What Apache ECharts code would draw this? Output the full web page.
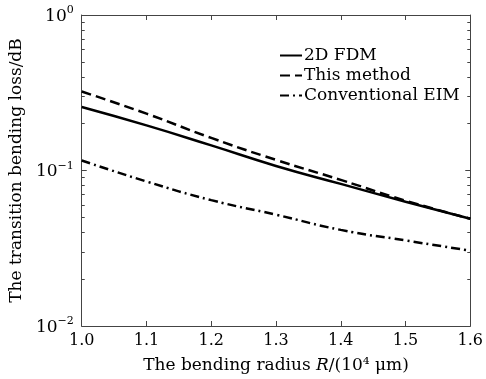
<!DOCTYPE html>
<html>
<head>
<meta charset="utf-8">
<script src="https://cdn.jsdelivr.net/npm/echarts@6/dist/echarts.min.js"></script>
<style>html,body{margin:0;padding:0;background:#fff}#c{width:486px;height:379px}</style>
</head>
<body>
<div id="c"></div>
<script>
const radius = [1.0, 1.1, 1.2, 1.3, 1.4, 1.5, 1.6];
const fdm2d = [0.256, 0.195, 0.145, 0.107, 0.082, 0.063, 0.049];
const thisMethod = [0.322, 0.232, 0.162, 0.117, 0.087, 0.064, 0.049];
const conventionalEIM = [0.116, 0.085, 0.0645, 0.052, 0.0415, 0.0355, 0.0305];
const seriesNames = ['2D FDM', 'This method', 'Conventional EIM'];
const yTickLabels = {'1': ['10', '0'], '0.1': ['10', '−1'], '0.01': ['10', '−2']};
const yMinorTicks = [0.02,0.03,0.04,0.05,0.06,0.07,0.08,0.09,0.2,0.3,0.4,0.5,0.6,0.7,0.8,0.9];

const FONT = 'DejaVu Serif';
const axisCol = '#444';
function pairs(ys) { return radius.map((x, i) => [x, ys[i]]); }

const xBase = {
  type: 'value', min: 1.0, max: 1.6, interval: 0.1,
  axisLine: {show: true, lineStyle: {color: axisCol, width: 1}},
  axisTick: {show: true, inside: true, length: 5, lineStyle: {color: axisCol}},
  splitLine: {show: false}
};
const yBase = {
  type: 'log', logBase: 10, min: 0.01, max: 1, interval: 1,
  axisLine: {show: true, lineStyle: {color: axisCol, width: 1}},
  axisTick: {show: true, inside: true, length: 5, lineStyle: {color: axisCol}},
  splitLine: {show: false}
};

const chart = echarts.init(document.getElementById('c'));
chart.setOption({
  animation: false,
  backgroundColor: '#fff',
  grid: {left: 75, right: 7, top: 15, bottom: 45, containLabel: false},
  legend: {
    orient: 'vertical', left: 274, top: 42,
    itemWidth: 22, itemHeight: 12, itemGap: 3,
    itemStyle: {opacity: 0},
    textStyle: {fontFamily: FONT, fontSize: 17, color: '#000', padding: [0,0,0,-3]},
    data: seriesNames
  },
  xAxis: [
    Object.assign({}, xBase, {
      position: 'bottom',
      axisLabel: {color: '#000', fontFamily: FONT, fontSize: 16, margin: 7,
        formatter: v => v.toFixed(1)},
      name: '{n|The bending radius }{i|R}{n|/(10⁴ μm)}',
      nameLocation: 'middle', nameGap: 31,
      nameTextStyle: {rich: {
        n: {fontFamily: FONT, fontSize: 17, color: '#000'},
        i: {fontFamily: FONT, fontSize: 17, color: '#000', fontStyle: 'italic'}
      }}
    }),
    Object.assign({}, xBase, {position: 'top', axisLabel: {show: false}})
  ],
  yAxis: [
    Object.assign({}, yBase, {
      position: 'left',
      axisLabel: {color: '#000', fontFamily: FONT, fontSize: 16, margin: 8,
        formatter: v => {
          const t = yTickLabels[String(+v.toPrecision(3))];
          return t ? '{b|' + t[0] + '}{s|' + t[1] + '}' : '';
        },
        rich: {
          b: {fontFamily: FONT, fontSize: 17, color: '#000', lineHeight: 20, verticalAlign: 'bottom'},
          s: {fontFamily: FONT, fontSize: 11, color: '#000', lineHeight: 20, verticalAlign: 'top', padding: [0, 0, 8, 0]}
        }
      },
      name: 'The transition bending loss/dB',
      nameLocation: 'middle', nameGap: 47,
      nameTextStyle: {fontFamily: FONT, fontSize: 17, color: '#000'}
    }),
    Object.assign({}, yBase, {position: 'right', axisLabel: {show: false}}),
    Object.assign({}, yBase, {position: 'left', axisLine: {show: false}, axisLabel: {show: false},
      axisTick: {show: true, inside: true, length: 3, customValues: yMinorTicks, lineStyle: {color: axisCol}}}),
    Object.assign({}, yBase, {position: 'right', axisLine: {show: false}, axisLabel: {show: false},
      axisTick: {show: true, inside: true, length: 3, customValues: yMinorTicks, lineStyle: {color: axisCol}}})
  ],
  series: [
    {name: seriesNames[0], type: 'line', data: pairs(fdm2d), symbol: 'none', smooth: true,
      lineStyle: {color: '#000', width: 2.5, type: 'solid'}, itemStyle: {color: '#000'}},
    {name: seriesNames[1], type: 'line', data: pairs(thisMethod), symbol: 'none', smooth: true,
      lineStyle: {color: '#000', width: 2.5, type: [10, 5]}, itemStyle: {color: '#000'}},
    {name: seriesNames[2], type: 'line', data: pairs(conventionalEIM), symbol: 'none', smooth: true,
      lineStyle: {color: '#000', width: 2.5, type: [9, 4, 2, 4]}, itemStyle: {color: '#000'}}
  ]
});
</script>
</body>
</html>
